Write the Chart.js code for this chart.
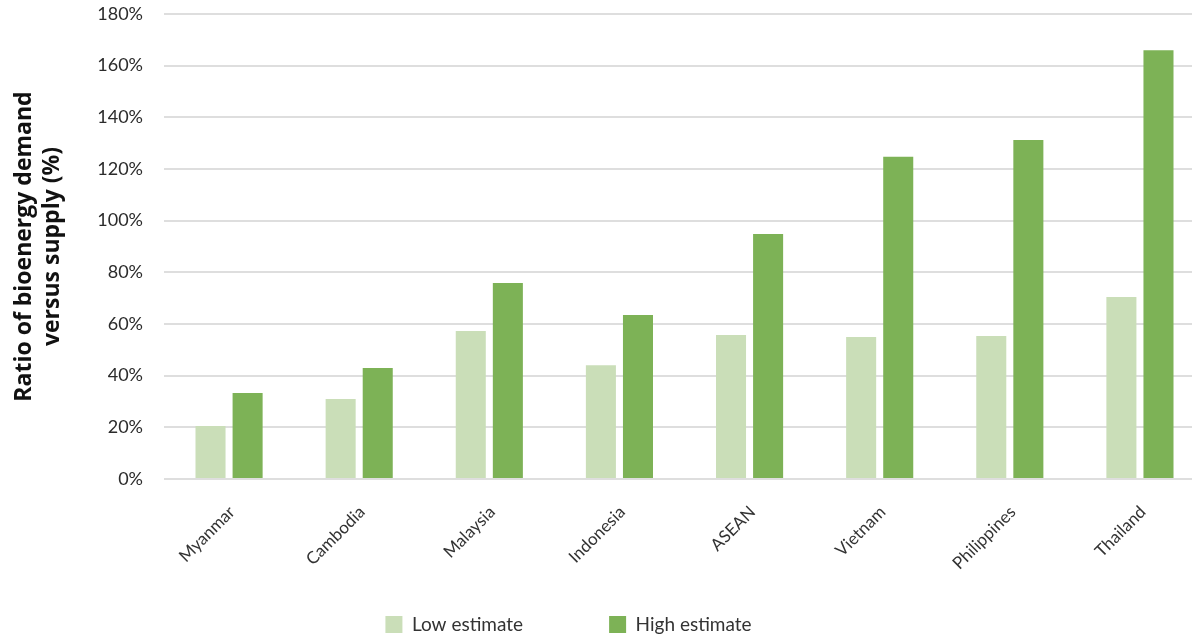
<!DOCTYPE html>
<html lang="en">
<head>
    <meta charset="UTF-8">
    <title>Bioenergy demand vs supply</title>
    <style>
        html, body { margin: 0; padding: 0; background: #fff; overflow: hidden; }
        #wrap { width: 1205px; height: 636px; }
    </style>
</head>
<body>
    <div id="wrap">
        <canvas id="chart" width="1205" height="636"></canvas>
    </div>
<script src="https://cdn.jsdelivr.net/npm/chart.js"></script>
<script>
const countries = ['Myanmar', 'Cambodia', 'Malaysia', 'Indonesia', 'ASEAN', 'Vietnam', 'Philippines', 'Thailand'];
const lowEstimate = [20.5, 31, 57.3, 44, 55.7, 55, 55.4, 70.5];
const highEstimate = [33.3, 43, 75.9, 63.5, 94.8, 124.7, 131.2, 166];
const yTicks = [0, 20, 40, 60, 80, 100, 120, 140, 160, 180];

const font = 'Lato, "Open Sans", sans-serif';

// nudge the legend to where the original sits, and let the rotated
// x labels draw below the (short) x axis box without being clipped
const legendShift = {
    id: 'legendShift',
    afterLayout(chart) {
        const lg = chart.legend;
        lg.left -= 34; lg.right -= 34;
        lg.top += 8; lg.bottom += 8;
        chart.scales.x.bottom = chart.height;
    }
};

new Chart(document.getElementById('chart'), {
    type: 'bar',
    data: {
        labels: countries,
        datasets: [
            { label: 'Low estimate', data: lowEstimate, backgroundColor: '#cadeb8' },
            { label: 'High estimate', data: highEstimate, backgroundColor: '#7db256' }
        ]
    },
    options: {
        responsive: false,
        animation: false,
        layout: { padding: { top: 14, bottom: 0, left: 0, right: 0 } },
        categoryPercentage: 0.57,
        barPercentage: 0.81,
        plugins: {
            tooltip: { enabled: false },
            legend: {
                position: 'bottom',
                labels: {
                    boxWidth: 17,
                    boxHeight: 17,
                    padding: 86,
                    color: '#333',
                    font: { family: font, size: 19 }
                }
            }
        },
        scales: {
            x: {
                grid: { display: false, drawTicks: false },
                border: { display: false },
                ticks: {
                    minRotation: 45,
                    maxRotation: 45,
                    labelOffset: 3,
                    padding: 23,
                    color: '#333',
                    font: { family: font, size: 17 }
                },
                afterFit(s) { s.height = 42; }
            },
            y: {
                min: 0,
                max: 180,
                afterBuildTicks(s) { s.ticks = yTicks.map(v => ({ value: v })); },
                grid: { color: '#dedede', lineWidth: 2, drawTicks: false },
                border: { display: false },
                ticks: {
                    padding: 21,
                    color: '#2b2b2b',
                    font: { family: font, size: 18 },
                    callback: v => v + '%'
                },
                title: {
                    display: true,
                    text: ['Ratio of bioenergy demand', 'versus supply (%)'],
                    color: '#111',
                    padding: { top: 11 },
                    font: { family: '"Open Sans", sans-serif', size: 23, weight: 'bold' }
                },
                afterFit(s) {
                    s.width = 164;
                    s.paddingTop = 0;
                    s.paddingBottom = 0;
                }
            }
        }
    },
    plugins: [legendShift]
});
</script>
</body>
</html>
